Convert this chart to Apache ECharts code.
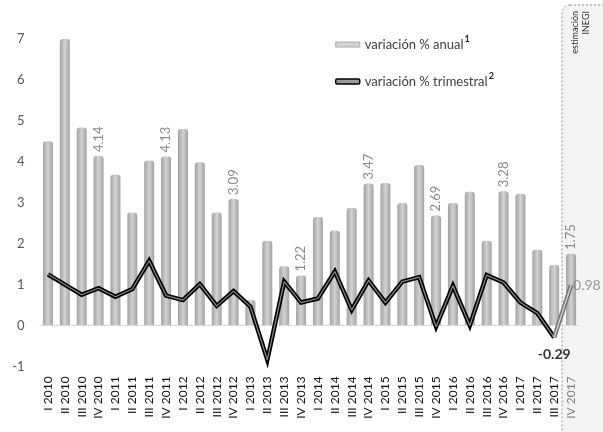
<!DOCTYPE html>
<html><head><meta charset="utf-8">
<script src="https://cdn.jsdelivr.net/npm/echarts@6/dist/echarts.min.js"></script>
<style>html,body{margin:0;padding:0;background:#fff}#c{width:603px;height:432px}</style>
</head><body><div id="c"></div>
<script>
const categories = ['I 2010','II 2010','III 2010','IV 2010','I 2011','II 2011','III 2011','IV 2011',
 'I 2012','II 2012','III 2012','IV 2012','I 2013','II 2013','III 2013','IV 2013',
 'I 2014','II 2014','III 2014','IV 2014','I 2015','II 2015','III 2015','IV 2015',
 'I 2016','II 2016','III 2016','IV 2016','I 2017','II 2017','III 2017','IV 2017'];
const anual = [4.5,7.0,4.84,4.14,3.68,2.76,4.03,4.13,
 4.80,3.99,2.76,3.09,0.62,2.07,1.45,1.22,
 2.65,2.32,2.87,3.47,3.48,2.99,3.92,2.69,
 2.99,3.27,2.07,3.28,3.22,1.85,1.48,1.75];
const trimestral = [1.25,1.0,0.75,0.91,0.70,0.89,1.58,0.73,
 0.62,1.01,0.48,0.84,0.46,-0.84,1.07,0.56,
 0.66,1.32,0.38,1.10,0.56,1.07,1.18,-0.03,
 0.97,0.0,1.23,1.05,0.56,0.30,-0.29,0.98];
const yTicks = [-1,0,1,2,3,4,5,6,7];
const nameAnual = 'variación % anual';
const nameTrim = 'variación % trimestral';

const n = categories.length;
const trimObs = trimestral.map((v,i)=> i < n-1 ? v : null);
const trimEst = trimestral.map((v,i)=> i >= n-2 ? v : null);

const chart = echarts.init(document.getElementById('c'));
const font = 'Lato';
chart.setOption({
  animation:false,
  textStyle:{fontFamily:font},
  grid:{left:39.5,right:23.5,top:39,bottom:65.6},
  graphic:[
    {type:'rect',z:-10,shape:{x:562,y:5,width:60,height:460,r:8},
     style:{fill:'#f4f4f4',stroke:'#8c8c8c',lineWidth:1,lineDash:[2,2]}},
    {type:'text',z:10,x:575,y:11,rotation:Math.PI/2,
     style:{text:'estimación',fontSize:9,fontFamily:font,fill:'#333',align:'right',verticalAlign:'middle'}},
    {type:'text',z:10,x:586,y:11,rotation:Math.PI/2,
     style:{text:'INEGI',fontSize:9,fontFamily:font,fill:'#333',align:'right',verticalAlign:'middle'}}
  ],
  legend:{
    orient:'vertical',left:330,top:30,itemGap:21,itemWidth:24,itemHeight:5,
    textStyle:{fontSize:13,color:'#404040',fontFamily:font,
      rich:{t:{fontSize:13,color:'#404040',fontFamily:font},
            s:{fontSize:9,fontWeight:'bold',color:'#222',verticalAlign:'top',padding:[0,0,10,1]}}},
    formatter:function(name){ return '{t|'+name+'}{s|'+(name===nameAnual?'1':'2')+'}'; },
    data:[
      {name:nameAnual,icon:'rect',itemStyle:{color:'#d4d4d4',borderColor:'#aaaaaa',borderWidth:1}},
      {name:nameTrim,icon:'roundRect',itemStyle:{color:'#9a9a9a',borderColor:'#000',borderWidth:1.5}}
    ]
  },
  xAxis:{
    type:'category',data:categories,
    axisLine:{show:false,onZero:false},axisTick:{show:false},
    axisLabel:{interval:0,rotate:90,fontSize:12,margin:10,fontFamily:font,
      color:function(v,i){ return v==='IV 2017' ? '#7f7f7f' : '#111'; }}
  },
  yAxis:{
    type:'value',min:yTicks[0],max:yTicks[yTicks.length-1],interval:1,
    axisLine:{show:false},axisTick:{show:false},splitLine:{show:false},
    axisLabel:{fontSize:13,color:'#595959',margin:15,fontFamily:font}
  },
  series:[
    {name:nameAnual,type:'bar',data:anual,barWidth:10,z:2,
     itemStyle:{color:new echarts.graphic.LinearGradient(0,0,1,0,[
       {offset:0,color:'#a2a2a2'},{offset:0.5,color:'#d2d2d2'},{offset:1,color:'#a2a2a2'}]),
       borderRadius:[3,3,0,0]},
     label:{show:true,position:'top',rotate:90,align:'left',verticalAlign:'middle',distance:4,
       fontSize:13,color:'#8a8a8a',fontFamily:font,
       formatter:function(p){ return categories[p.dataIndex].indexOf('IV')===0 ? p.value.toFixed(2) : ''; }},
     markLine:{silent:true,symbol:'none',label:{show:false},
       lineStyle:{color:'#d9d9d9',type:'solid',width:1},data:[{yAxis:0}]}
    },
    {name:nameTrim,type:'line',data:trimObs,symbol:'none',z:5,
     lineStyle:{color:'#000',width:4.5,join:'miter'}},
    {name:nameTrim+'_in',type:'line',data:trimObs,symbol:'none',z:6,silent:true,
     lineStyle:{color:'#8a8a8a',width:1.2}},
    {name:nameTrim+'_est',type:'line',data:trimEst,symbol:'none',z:5,
     lineStyle:{color:'#777',width:4.5}},
    {name:nameTrim+'_est_in',type:'line',data:trimEst,symbol:'none',z:6,silent:true,
     lineStyle:{color:'#dcdcdc',width:1.2}},
    {name:nameTrim+'_lbl',type:'scatter',
     data:trimestral.map((v,i)=> i >= n-2 ? v : null),
     symbol:'circle',symbolSize:2,itemStyle:{color:'rgba(0,0,0,0)'},z:7,silent:true,
     label:{show:true,fontFamily:font,
       position:function(p){ return p.dataIndex===n-1 ? 'right' : 'bottom'; },
       formatter:function(p){ return p.value.toFixed(2); },
       rich:{}
     }}
  ]
});
// per-point label styles
const opt = chart.getOption();
const lblData = trimestral.map((v,i)=>{
  if (i === n-2) return {value:v,label:{position:'bottom',distance:9,fontSize:14,fontWeight:'bold',color:'#000'}};
  if (i === n-1) return {value:v,label:{position:'right',distance:1,fontSize:14,color:'#7f7f7f'}};
  return null;
});
chart.setOption({series:[{},{},{},{},{},{name:nameTrim+'_lbl',data:lblData,
  label:{show:true,fontFamily:font,formatter:function(p){ return Number(p.value).toFixed(2); }}}]});
</script></body></html>
